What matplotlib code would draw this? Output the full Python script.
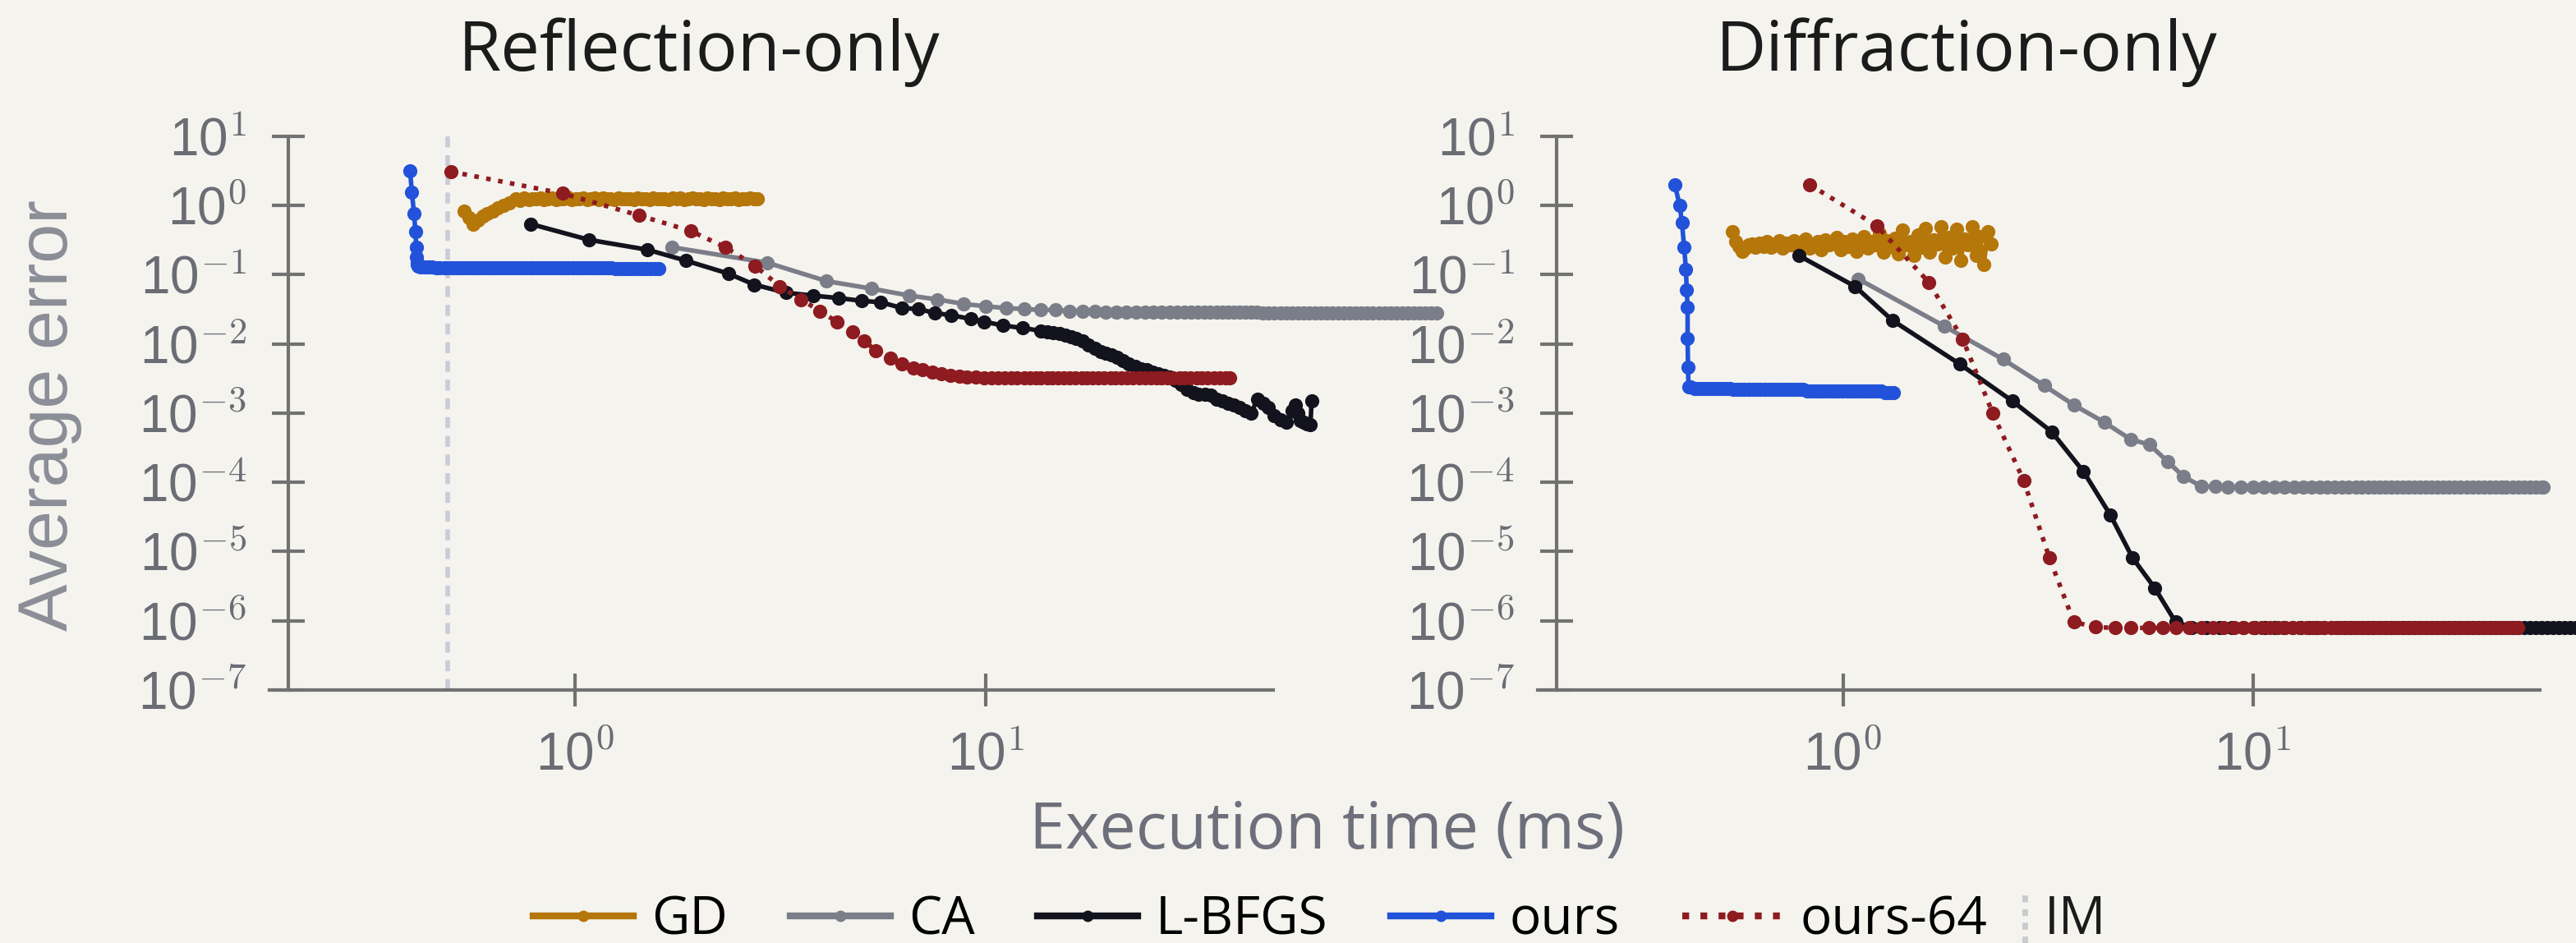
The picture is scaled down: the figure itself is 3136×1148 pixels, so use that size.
import matplotlib

matplotlib.use("Agg")
import matplotlib.pyplot as plt
from matplotlib.lines import Line2D


OUTPUT_PATH = "out.png"

SERIES = ["GD", "CA", "L-BFGS", "ours", "ours-64"]
TITULOS = ["Reflection-only", "Diffraction-only"]
X_TICKS = [1, 10]
X_TICK_LABELS = ["10$^{0}$", "10$^{1}$"]
Y_TICKS = [1e-7, 1e-6, 1e-5, 1e-4, 1e-3, 1e-2, 1e-1, 1e0, 1e1]
Y_TICK_LABELS = ["10$^{-7}$", "10$^{-6}$", "10$^{-5}$", "10$^{-4}$", "10$^{-3}$",
                 "10$^{-2}$", "10$^{-1}$", "10$^{0}$", "10$^{1}$"]
IM_TIEMPO = 0.488

# --- Reflection-only (tiempo en ms, error medio) ---
GD_L_T = [0.535, 0.55, 0.565, 0.58, 0.595, 0.611, 0.63, 0.649, 0.67, 0.69,
          0.718, 0.735, 0.752,
          0.77, 0.787, 0.804, 0.822, 0.840, 0.859, 0.878, 0.897, 0.917, 0.937,
          0.958, 0.979, 1.001, 1.023, 1.045, 1.068, 1.092, 1.116, 1.141, 1.166,
          1.192, 1.218, 1.245, 1.272, 1.300, 1.329, 1.358, 1.388, 1.419, 1.450,
          1.482, 1.515, 1.548, 1.582, 1.617, 1.653, 1.689, 1.726, 1.764, 1.803,
          1.843, 1.884, 1.925, 1.967, 2.011, 2.055, 2.100, 2.146, 2.193, 2.242,
          2.291, 2.342, 2.393, 2.446, 2.500, 2.555, 2.611, 2.669, 2.728, 2.770]
GD_L_E = [0.83, 0.66, 0.54, 0.62, 0.70, 0.76, 0.83, 0.94, 1.02, 1.10,
          1.26, 1.20, 1.28,
          1.22, 1.27, 1.24, 1.29, 1.21, 1.26, 1.30, 1.23, 1.27, 1.25,
          1.31, 1.22, 1.27, 1.24, 1.29, 1.23, 1.26, 1.30, 1.22, 1.28,
          1.25, 1.27, 1.23, 1.30, 1.24, 1.27, 1.26, 1.22, 1.29, 1.25,
          1.27, 1.23, 1.28, 1.26, 1.24, 1.27, 1.22, 1.29, 1.25, 1.28,
          1.23, 1.27, 1.30, 1.24, 1.26, 1.22, 1.28, 1.25, 1.27, 1.23,
          1.29, 1.24, 1.26, 1.28, 1.22, 1.27, 1.25, 1.29, 1.24, 1.27]

CA_L_T = [1.72, 2.94, 4.09, 5.27, 6.52, 7.62, 8.8, 10.0, 11.2, 12.4,
          13.6, 14.8, 16.0, 17.2, 18.4, 19.6, 20.8, 22.0, 23.2, 24.4,
          25.6, 26.8, 28.0, 29.2, 30.4, 31.6, 32.8, 34.0, 35.2, 36.4,
          37.6, 38.8, 40.1, 41.4, 42.8, 44.2, 45.7, 47.2, 48.8, 50.4,
          52.1, 53.8, 55.6, 57.4, 59.3, 61.3, 63.3, 65.4, 67.6, 69.8,
          72.1, 74.5, 77.0, 79.5, 82.1, 84.8, 87.6, 90.5, 93.5, 96.6,
          99.8, 103.1, 106.5, 110.0, 113.6, 117.4, 121.3, 125.0]
CA_L_E = [0.25, 0.149, 0.081, 0.063, 0.050, 0.044, 0.038, 0.035, 0.033, 0.032,
          0.031, 0.031, 0.030, 0.030, 0.030, 0.029, 0.029, 0.029, 0.029, 0.029,
          0.029, 0.029, 0.029, 0.029, 0.029, 0.029, 0.029, 0.029, 0.029, 0.029,
          0.029, 0.029, 0.029, 0.029, 0.029, 0.029, 0.029, 0.028, 0.028, 0.028,
          0.028, 0.028, 0.028, 0.028, 0.028, 0.028, 0.028, 0.028, 0.028, 0.028,
          0.028, 0.028, 0.028, 0.028, 0.028, 0.028, 0.028, 0.028, 0.028, 0.028,
          0.028, 0.028, 0.028, 0.028, 0.028, 0.028, 0.028, 0.028]

LBFGS_L_T = [0.78, 1.08, 1.50, 1.86, 2.36, 2.73, 3.26, 3.80, 4.38, 4.99,
             5.55, 6.25, 6.86, 7.5, 8.24, 9.2, 9.9, 11.0, 12.3, 13.6,
             14.1, 14.6, 15.1, 15.6, 16.1, 16.6, 17.2, 17.8, 18.4, 19.0,
             19.6, 20.2, 20.9, 21.6, 22.3, 23.1, 23.8, 24.6, 25.4, 26.3,
             27.1, 28.0, 29.0, 29.9, 30.9, 32.0, 33.0, 34.1, 35.3, 36.4,
             37.6, 38.9, 40.2, 41.5, 42.9, 44.3, 45.8, 47.3, 48.8, 50.4,
             52.1, 53.8, 55.6, 56.7, 57.4, 58.4, 59.3, 60.5, 61.7, 62.1]
LBFGS_L_E = [0.54, 0.32, 0.23, 0.16, 0.104, 0.072, 0.055, 0.050, 0.046, 0.042,
             0.040, 0.033, 0.032, 0.028, 0.026, 0.023, 0.021, 0.0185, 0.017, 0.0155,
             0.0150, 0.0145, 0.0140, 0.0134, 0.0127, 0.0120, 0.0110, 0.0097, 0.0086, 0.0078,
             0.0073, 0.0070, 0.0065, 0.0058, 0.0052, 0.0047, 0.0044, 0.0042, 0.0039, 0.0037,
             0.0035, 0.0033, 0.0030, 0.0026, 0.0022, 0.0020, 0.0019, 0.0019, 0.0018, 0.0016,
             0.0015, 0.0014, 0.0013, 0.0012, 0.0011, 0.0010, 0.0016, 0.0014, 0.0012, 0.00092,
             0.00080, 0.00074, 0.0011, 0.0013, 0.0010, 0.00079, 0.00074, 0.00070, 0.00069, 0.0015]

OURS_L_T = [0.396, 0.400, 0.405, 0.408, 0.410, 0.411, 0.412, 0.413, 0.415,
            0.420, 0.429, 0.439, 0.448, 0.458, 0.468, 0.479, 0.489, 0.500, 0.511,
            0.522, 0.534, 0.546, 0.558, 0.570, 0.583, 0.596, 0.609, 0.622, 0.636,
            0.650, 0.664, 0.679, 0.694, 0.709, 0.725, 0.741, 0.757, 0.774, 0.791,
            0.809, 0.827, 0.845, 0.863, 0.882, 0.902, 0.922, 0.942, 0.963, 0.984,
            1.006, 1.028, 1.051, 1.074, 1.098, 1.122, 1.147, 1.172, 1.198, 1.225,
            1.252, 1.279, 1.308, 1.337, 1.366, 1.396, 1.427, 1.459, 1.491, 1.524,
            1.558, 1.600]
OURS_L_E = [3.2, 1.55, 0.76, 0.42, 0.25, 0.18, 0.15, 0.14, 0.133,
            0.130, 0.129, 0.128, 0.128, 0.127, 0.127, 0.127, 0.126, 0.126, 0.126,
            0.126, 0.126, 0.126, 0.126, 0.126, 0.126, 0.126, 0.126, 0.126, 0.126,
            0.125, 0.125, 0.125, 0.125, 0.125, 0.125, 0.125, 0.125, 0.125, 0.125,
            0.125, 0.125, 0.125, 0.125, 0.125, 0.125, 0.125, 0.125, 0.125, 0.125,
            0.125, 0.125, 0.125, 0.125, 0.125, 0.125, 0.125, 0.125, 0.125, 0.125,
            0.124, 0.124, 0.124, 0.124, 0.124, 0.124, 0.124, 0.124, 0.124, 0.124,
            0.124, 0.124]

OURS64_L_T = [0.497, 0.93, 1.43, 1.91, 2.32, 2.74, 3.15, 3.55, 3.94, 4.33,
              4.74, 5.06, 5.40, 5.86, 6.25, 6.67, 7.0, 7.4, 7.8, 8.2,
              8.6, 9.0, 9.45, 9.9, 10.3, 10.7, 11.1, 11.5, 11.9, 12.4,
              12.8, 13.2, 13.6, 14.1, 14.5, 15.0, 15.5, 16.0, 16.5, 17.1,
              17.6, 18.2, 18.8, 19.4, 20.1, 20.7, 21.4, 22.1, 22.8, 23.6,
              24.4, 25.2, 26.0, 26.8, 27.7, 28.6, 29.6, 30.5, 31.5, 32.6,
              33.6, 34.7, 35.9, 37.1, 38.3, 39.3]
OURS64_L_E = [3.1, 1.5, 0.72, 0.43, 0.25, 0.135, 0.068, 0.044, 0.030, 0.021,
              0.015, 0.011, 0.0080, 0.0063, 0.0051, 0.0045, 0.0042, 0.0039, 0.0037, 0.0035,
              0.0034, 0.0033, 0.0033, 0.0032, 0.0032, 0.0032, 0.0032, 0.0032, 0.0032, 0.0032,
              0.0032, 0.0032, 0.0032, 0.0032, 0.0032, 0.0032, 0.0032, 0.0032, 0.0032, 0.0032,
              0.0032, 0.0032, 0.0032, 0.0032, 0.0032, 0.0032, 0.0032, 0.0032, 0.0032, 0.0032,
              0.0032, 0.0032, 0.0032, 0.0032, 0.0032, 0.0032, 0.0032, 0.0032, 0.0032, 0.0032,
              0.0032, 0.0032, 0.0032, 0.0032, 0.0032, 0.0032]

# --- Diffraction-only ---
GD_R_T = [0.538, 0.548, 0.558, 0.568, 0.578, 0.59,
          0.600, 0.613, 0.626, 0.640, 0.654, 0.668, 0.683, 0.698, 0.713, 0.729,
          0.745, 0.761, 0.778, 0.795, 0.812, 0.830, 0.848, 0.867, 0.886, 0.905,
          0.925, 0.946, 0.966, 0.988, 1.009, 1.032, 1.054, 1.077, 1.101, 1.125,
          1.150, 1.175, 1.201, 1.227, 1.254, 1.282, 1.310, 1.339, 1.368, 1.398,
          1.429, 1.460, 1.492, 1.525, 1.559, 1.593, 1.628, 1.664, 1.700, 1.738,
          1.776, 1.815, 1.855, 1.896, 1.937, 1.980, 2.023, 2.068, 2.113, 2.160,
          2.207, 2.255, 2.300]
GD_R_E = [0.42, 0.30, 0.26, 0.22, 0.24, 0.27,
          0.28, 0.25, 0.29, 0.26, 0.30, 0.25, 0.28, 0.31, 0.24, 0.29,
          0.27, 0.31, 0.25, 0.29, 0.33, 0.24, 0.28, 0.30, 0.23, 0.32,
          0.27, 0.29, 0.35, 0.23, 0.30, 0.26, 0.33, 0.22, 0.29, 0.36,
          0.24, 0.30, 0.27, 0.40, 0.21, 0.31, 0.26, 0.34, 0.20, 0.44,
          0.27, 0.30, 0.19, 0.38, 0.25, 0.47, 0.21, 0.32, 0.28, 0.50,
          0.18, 0.35, 0.24, 0.45, 0.16, 0.33, 0.27, 0.49, 0.19, 0.36,
          0.14, 0.42, 0.28]

CA_R_T = [1.09, 1.77, 2.46, 3.10, 3.67, 4.34, 5.03, 5.60, 6.20, 6.76,
          7.50, 8.10, 8.70, 9.35, 10.0, 10.65, 11.3, 11.95, 12.6, 13.25,
          13.9, 14.55, 15.2, 15.85, 16.5, 17.15, 17.8, 18.45, 19.1, 19.75,
          20.4, 21.1, 21.8, 22.5, 23.2, 24.0, 24.8, 25.6, 26.4, 27.3,
          28.2, 29.1, 30.1, 31.1, 32.1, 33.2, 34.3, 35.4, 36.6, 37.8,
          39.0, 40.3, 41.6, 43.0, 44.4, 45.9, 47.4, 49.0, 50.6, 51.2]
CA_R_E = [0.087, 0.018, 0.0060, 0.0025, 0.0013, 0.00074, 0.00042, 0.00035, 0.00020, 0.000123,
          8.7e-5, 8.7e-5, 8.6e-5, 8.6e-5, 8.6e-5, 8.6e-5, 8.6e-5, 8.6e-5, 8.6e-5, 8.6e-5,
          8.6e-5, 8.6e-5, 8.6e-5, 8.6e-5, 8.6e-5, 8.6e-5, 8.6e-5, 8.6e-5, 8.6e-5, 8.6e-5,
          8.6e-5, 8.6e-5, 8.6e-5, 8.6e-5, 8.6e-5, 8.6e-5, 8.6e-5, 8.6e-5, 8.6e-5, 8.6e-5,
          8.6e-5, 8.6e-5, 8.6e-5, 8.6e-5, 8.6e-5, 8.6e-5, 8.6e-5, 8.6e-5, 8.6e-5, 8.6e-5,
          8.6e-5, 8.6e-5, 8.6e-5, 8.6e-5, 8.6e-5, 8.6e-5, 8.6e-5, 8.6e-5, 8.6e-5, 8.6e-5]

LBFGS_R_T = [0.78, 1.07, 1.32, 1.93, 2.59, 3.23, 3.86, 4.49, 5.09, 5.76,
             6.48, 7.1, 7.7, 8.3, 8.9, 9.5, 10.1, 10.7, 11.3, 11.9,
             12.5, 13.1, 13.7, 14.3, 14.9, 15.5, 16.1, 16.7, 17.3, 17.9,
             18.5, 19.1, 19.7, 20.4, 21.1, 21.8, 22.5, 23.2, 24.0, 24.8,
             25.6, 26.4, 27.3, 28.2, 29.1, 30.1, 31.1, 32.1, 33.2, 34.3,
             35.4, 36.6, 37.8, 39.0, 40.3, 41.6, 43.0, 44.4, 45.9, 47.4,
             49.0, 50.6, 52.3, 54.0, 55.8, 57.6, 59.5, 61.5, 63.5, 65.6,
             67.8]
LBFGS_R_E = [0.19, 0.068, 0.022, 0.0051, 0.0015, 0.00054, 0.000144, 3.4e-5, 8.1e-6, 3.0e-6,
             9.6e-7, 8.0e-7, 8.0e-7, 8.0e-7, 8.0e-7, 8.0e-7, 8.0e-7, 8.0e-7, 8.0e-7, 8.0e-7,
             8.0e-7, 8.0e-7, 8.0e-7, 8.0e-7, 8.0e-7, 8.0e-7, 8.0e-7, 8.0e-7, 8.0e-7, 8.0e-7,
             8.0e-7, 8.0e-7, 8.0e-7, 8.0e-7, 8.0e-7, 8.0e-7, 8.0e-7, 8.0e-7, 8.0e-7, 8.0e-7,
             8.0e-7, 8.0e-7, 8.0e-7, 8.0e-7, 8.0e-7, 8.0e-7, 8.0e-7, 8.0e-7, 8.0e-7, 8.0e-7,
             8.0e-7, 8.0e-7, 8.0e-7, 8.0e-7, 8.0e-7, 8.0e-7, 8.0e-7, 8.0e-7, 8.0e-7, 8.0e-7,
             8.0e-7, 8.0e-7, 8.0e-7, 8.0e-7, 8.0e-7, 8.0e-7, 8.0e-7, 8.0e-7, 8.0e-7, 8.0e-7,
             8.0e-7]

OURS_R_T = [0.389, 0.400, 0.405, 0.410, 0.414, 0.416, 0.418, 0.418, 0.419, 0.420,
            0.425, 0.434, 0.444, 0.453, 0.463, 0.474, 0.484, 0.495, 0.506, 0.517,
            0.529, 0.540, 0.552, 0.565, 0.577, 0.590, 0.603, 0.616, 0.630, 0.644,
            0.658, 0.673, 0.688, 0.703, 0.718, 0.734, 0.750, 0.767, 0.784, 0.801,
            0.819, 0.837, 0.856, 0.875, 0.894, 0.914, 0.934, 0.955, 0.976, 0.997,
            1.019, 1.042, 1.065, 1.089, 1.113, 1.137, 1.163, 1.188, 1.215, 1.242,
            1.269, 1.297, 1.330]
OURS_R_E = [2.0, 1.0, 0.56, 0.25, 0.12, 0.060, 0.034, 0.012, 0.0046, 0.0024,
            0.0024, 0.0023, 0.0023, 0.0023, 0.0023, 0.0023, 0.0023, 0.0023, 0.0023, 0.0023,
            0.0023, 0.0022, 0.0022, 0.0022, 0.0022, 0.0022, 0.0022, 0.0022, 0.0022, 0.0022,
            0.0022, 0.0022, 0.0022, 0.0022, 0.0022, 0.0022, 0.0022, 0.0022, 0.0022, 0.0022,
            0.0021, 0.0021, 0.0021, 0.0021, 0.0021, 0.0021, 0.0021, 0.0021, 0.0021, 0.0021,
            0.0021, 0.0021, 0.0021, 0.0021, 0.0021, 0.0021, 0.0021, 0.0021, 0.0021, 0.0021,
            0.0020, 0.0020, 0.0020]

OURS64_R_T = [0.83, 1.21, 1.62, 1.96, 2.32, 2.76, 3.19, 3.66, 4.13, 4.62,
              5.04, 5.59, 6.03, 6.5, 7.0, 7.5, 8.0, 8.5, 9.0, 9.5,
              10.0, 10.5, 11.0, 11.5, 12.0, 12.5, 13.0, 13.5, 14.0, 14.5,
              15.0, 15.5, 16.0, 16.5, 17.0, 17.6, 18.2, 18.8, 19.4, 20.0,
              20.7, 21.4, 22.1, 22.8, 23.6, 24.4, 25.2, 26.0, 26.9, 27.8,
              28.7, 29.6, 30.6, 31.6, 32.6, 33.7, 34.8, 35.9, 37.1, 38.3,
              39.6, 40.9, 42.2, 43.6, 44.2]
OURS64_R_E = [2.0, 0.51, 0.078, 0.0118, 0.0010, 0.000107, 8.1e-6, 9.6e-7, 8.1e-7, 7.9e-7,
              7.9e-7, 7.9e-7, 7.9e-7, 7.9e-7, 7.9e-7, 7.9e-7, 7.9e-7, 7.9e-7, 7.9e-7, 7.9e-7,
              7.9e-7, 7.9e-7, 7.9e-7, 7.9e-7, 7.9e-7, 7.9e-7, 7.9e-7, 7.9e-7, 7.9e-7, 7.9e-7,
              7.9e-7, 7.9e-7, 7.9e-7, 7.9e-7, 7.9e-7, 7.9e-7, 7.9e-7, 7.9e-7, 7.9e-7, 7.9e-7,
              7.9e-7, 7.9e-7, 7.9e-7, 7.9e-7, 7.9e-7, 7.9e-7, 7.9e-7, 7.9e-7, 7.9e-7, 7.9e-7,
              7.9e-7, 7.9e-7, 7.9e-7, 7.9e-7, 7.9e-7, 7.9e-7, 7.9e-7, 7.9e-7, 7.9e-7, 7.9e-7,
              7.9e-7, 7.9e-7, 7.9e-7, 7.9e-7, 7.9e-7]

FONDO = "#f4f3ee"
GRIS_EJE = "#717171"
GRIS_TEXTO = "#6b6d75"
COLORES = {
    "GD": "#b5760a",
    "CA": "#7b7d88",
    "L-BFGS": "#12131d",
    "ours": "#2152d9",
    "ours-64": "#8e1b20",
}
ESTILOS = {"GD": "-", "CA": "-", "L-BFGS": "-", "ours": "-", "ours-64": ":"}


def estilo_ejes(ax, titulo):
    ax.set_xscale("log")
    ax.set_yscale("log")
    ax.set_xlim(0.18, 50.1)
    ax.set_ylim(1e-7, 1e1)
    ax.set_facecolor(FONDO)
    ax.spines["top"].set_visible(False)
    ax.spines["right"].set_visible(False)
    ax.spines["left"].set_position(("data", 0.2))
    for lado in ("left", "bottom"):
        ax.spines[lado].set_color(GRIS_EJE)
        ax.spines[lado].set_linewidth(1.5)
    ax.set_xticks(X_TICKS, X_TICK_LABELS)
    ax.set_yticks(Y_TICKS, Y_TICK_LABELS)
    ax.minorticks_off()
    ax.tick_params(direction="inout", length=14.4, width=1.5, color=GRIS_EJE,
                   labelcolor=GRIS_TEXTO, labelsize=23, pad=11)
    ax.text(0.428, 1.119, titulo, transform=ax.transAxes, ha="center",
            va="baseline", fontsize=30.5, family="Open Sans", color="#1b1b1b")


def dibujar(ax, tiempos, errores, nombre):
    color = COLORES[nombre]
    ax.plot(tiempos, errores, linestyle=ESTILOS[nombre], color=color, lw=2.0,
            marker="o", ms=5.2, mfc=color, mec=color, label=nombre,
            clip_on=False, zorder=3)


def main():
    plt.rcParams["font.family"] = ["Liberation Sans", "DejaVu Sans"]
    plt.rcParams["mathtext.fontset"] = "cm"

    fig = plt.figure(figsize=(15.68, 5.74), dpi=200, facecolor=FONDO)
    ax_ref = fig.add_axes([0.1046, 0.2683, 0.3897, 0.5871])
    ax_dif = fig.add_axes([0.5969, 0.2683, 0.3890, 0.5871])

    datos_ref = {
        "GD": (GD_L_T, GD_L_E),
        "CA": (CA_L_T, CA_L_E),
        "L-BFGS": (LBFGS_L_T, LBFGS_L_E),
        "ours": (OURS_L_T, OURS_L_E),
        "ours-64": (OURS64_L_T, OURS64_L_E),
    }
    datos_dif = {
        "GD": (GD_R_T, GD_R_E),
        "CA": (CA_R_T, CA_R_E),
        "L-BFGS": (LBFGS_R_T, LBFGS_R_E),
        "ours": (OURS_R_T, OURS_R_E),
        "ours-64": (OURS64_R_T, OURS64_R_E),
    }

    for ax, titulo, datos in ((ax_ref, TITULOS[0], datos_ref), (ax_dif, TITULOS[1], datos_dif)):
        estilo_ejes(ax, titulo)
        for nombre in SERIES:
            tiempos, errores = datos[nombre]
            dibujar(ax, tiempos, errores, nombre)

    ax_ref.axvline(IM_TIEMPO, color="#c9cbd8", lw=2, ls=(0, (2.4, 1.7)), zorder=1)

    fig.text(0.019, 0.56, "Average error", rotation=90, ha="center", va="center",
             fontsize=31, color="#8b8d97")
    fig.text(0.515, 0.1002, "Execution time (ms)", ha="center", va="baseline",
             fontsize=28.5, family="Open Sans", color="#6d6f7b")

    # leyenda: las 5 series en una fila, IM aparte con un trazo vertical
    handles = [Line2D([], [], color=COLORES[n], ls=ESTILOS[n], lw=3, marker="o",
                      ms=4, mfc=COLORES[n], mec=COLORES[n]) for n in SERIES]
    leyenda = fig.legend(handles, SERIES, loc="center left", bbox_to_anchor=(0.207, 0.024),
                         ncol=5, frameon=False, borderpad=0, borderaxespad=0,
                         prop={"family": "Open Sans", "size": 23},
                         handlelength=1.9, handletextpad=0.35, columnspacing=1.2)

    fig.canvas.draw()
    caja = leyenda.get_window_extent()
    ancho_px = fig.get_figwidth() * fig.dpi
    x_im = (caja.x1 + 45) / ancho_px
    fig.add_artist(Line2D([x_im, x_im], [0.0, 0.053], transform=fig.transFigure,
                          color="#c9cace", lw=2.5, ls=(0, (1.2, 1.2))))
    fig.text(x_im + 24 / ancho_px, 0.024, "IM", ha="left", va="center", fontsize=23,
             family="Open Sans", color="#1b1b1b")

    fig.savefig(OUTPUT_PATH, dpi=200, facecolor=FONDO)


if __name__ == "__main__":
    main()
